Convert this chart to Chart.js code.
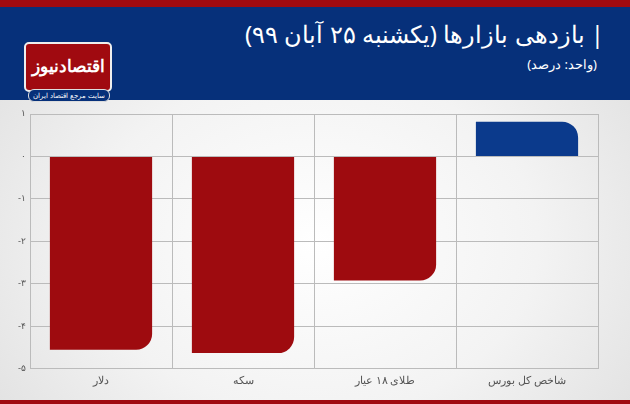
<!DOCTYPE html>
<html><head><meta charset="utf-8">
<script src="https://cdn.jsdelivr.net/npm/chart.js@4"></script>
<style>
body{margin:0;width:630px;height:404px;overflow:hidden;font-family:"Noto Sans",sans-serif;background:radial-gradient(ellipse at 50% 60%,#ffffff 0%,#f3f3f3 50%,#dcdcdc 100%);position:relative}
#top{position:absolute;left:0;top:0;width:630px;height:7px;background:#a00a10}
#band{position:absolute;left:0;top:7px;width:630px;height:93px;background:#06307a}
#bot{position:absolute;left:0;top:400px;width:630px;height:4px;background:#a00a10}
#title{position:absolute;right:26px;top:17px;color:#fff;font-size:24px;direction:rtl;white-space:nowrap}
#sub{position:absolute;right:33px;top:55px;color:#fff;font-size:13px;direction:rtl}
#logo{position:absolute;left:24px;top:42px;width:84px;height:46px;background:#a00a10;border:2px solid #eee;border-radius:5px;color:#fff;font-size:17px;font-weight:bold;text-align:center;line-height:44px;direction:rtl;white-space:nowrap;overflow:hidden}
#pill{position:absolute;left:28px;top:89px;width:80px;height:11px;background:#06307a;border-radius:6px;color:#fff;font-size:7px;text-align:center;line-height:11px;direction:rtl;border:1px solid #ddd}
#wrap{position:absolute;left:0;top:100px;width:630px;height:300px}
</style></head><body>
<div id="top"></div><div id="band"></div><div id="bot"></div>
<div id="title">| بازدهی بازارها (یکشنبه ۲۵ آبان ۹۹)</div>
<div id="sub">(واحد: درصد)</div>
<div id="logo">اقتصادنیوز</div>
<div id="pill">سایت مرجع اقتصاد ایران</div>
<div id="wrap"><canvas id="c"></canvas></div>
<script>
const categories=["دلار","سکه","طلای ۱۸ عیار","شاخص کل بورس"];
const values=[-4.55,-4.63,-2.92,0.82];
const tickLabels={"1":"۱","0":"۰","-1":"-۱","-2":"-۲","-3":"-۳","-4":"-۴","-5":"-۵"};
new Chart(document.getElementById('c'),{type:'bar',
data:{labels:categories,datasets:[{data:values,
backgroundColor:ctx=>values[ctx.dataIndex]<0?'#9e0b0f':'#0b3a8c',
borderRadius:ctx=>values[ctx.dataIndex]<0?{topLeft:0,topRight:0,bottomLeft:0,bottomRight:16}:{topLeft:0,topRight:16,bottomLeft:0,bottomRight:0},
borderSkipped:false,barPercentage:0.72,categoryPercentage:1}]},
options:{responsive:true,maintainAspectRatio:false,animation:false,
layout:{padding:{top:14,right:32,bottom:8,left:8}},
plugins:{legend:{display:false},tooltip:{enabled:false}},
scales:{x:{grid:{color:'#bbb',offset:true,drawTicks:false},border:{color:'#bbb'},
ticks:{color:'#555',font:{size:11,family:'Noto Sans'},padding:5}},
y:{min:-5,max:1,afterFit:s=>{s.width=22},grid:{color:'#bbb',drawTicks:false},border:{color:'#bbb'},
ticks:{stepSize:1,color:'#555',font:{size:9},padding:4,callback:v=>tickLabels[String(v)]}}}}});
</script></body></html>
